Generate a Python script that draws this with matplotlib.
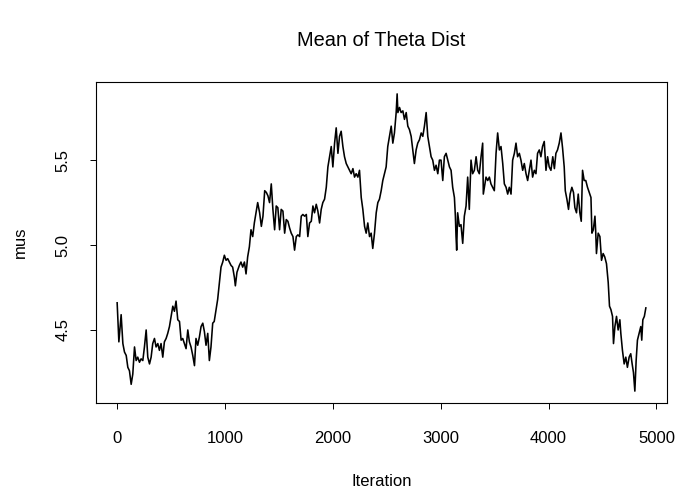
import matplotlib
matplotlib.use("Agg")
import matplotlib.pyplot as plt

# trace of the sampled mean, read off at roughly every 15 iterations
iteration = [
    0, 16, 37, 53, 68, 84, 99, 114, 130, 145, 161, 176, 191, 207, 222, 238,
    253, 269, 284, 300, 315, 330, 346, 361, 377, 392, 407, 423, 438, 454, 469,
    485, 500, 516, 531, 546, 562, 578, 593, 608, 624, 639, 655, 670, 685, 701,
    717, 731, 747, 763, 778, 794, 809, 824, 840, 855, 870, 886, 900, 917, 932,
    948, 963, 979, 994, 1010, 1025, 1040, 1056, 1071, 1087, 1096, 1111, 1133,
    1148, 1164, 1180, 1195, 1210, 1226, 1241, 1257, 1272, 1287, 1303, 1321,
    1337, 1352, 1368, 1383, 1398, 1413, 1429, 1444, 1460, 1475, 1490, 1506,
    1521, 1537, 1553, 1568, 1583, 1599, 1614, 1630, 1645, 1661, 1676, 1692,
    1707, 1722, 1738, 1754, 1768, 1784, 1800, 1815, 1830, 1846, 1861, 1877,
    1892, 1907, 1923, 1939, 1954, 1969, 1985, 2000, 2016, 2031, 2047, 2062,
    2077, 2093, 2108, 2124, 2139, 2155, 2170, 2186, 2201, 2216, 2232, 2247,
    2263, 2278, 2294, 2309, 2324, 2340, 2355, 2370, 2386, 2402, 2417, 2432,
    2448, 2463, 2478, 2494, 2509, 2525, 2541, 2556, 2571, 2587, 2596, 2603,
    2618, 2633, 2649, 2664, 2680, 2695, 2710, 2726, 2741, 2756, 2772, 2787,
    2803, 2819, 2834, 2849, 2865, 2880, 2895, 2911, 2926, 2942, 2957, 2973,
    2988, 3003, 3019, 3034, 3050, 3065, 3081, 3096, 3111, 3127, 3136, 3142,
    3148, 3157, 3173, 3188, 3204, 3219, 3235, 3250, 3265, 3281, 3296, 3312,
    3328, 3343, 3358, 3374, 3389, 3395, 3405, 3420, 3436, 3451, 3466, 3482,
    3497, 3513, 3528, 3544, 3559, 3575, 3590, 3606, 3621, 3636, 3652, 3667,
    3683, 3698, 3713, 3729, 3744, 3760, 3775, 3791, 3806, 3822, 3837, 3852,
    3868, 3883, 3898, 3914, 3929, 3944, 3960, 3976, 3991, 4006, 4022, 4039,
    4054, 4068, 4083, 4099, 4115, 4130, 4145, 4155, 4170, 4185, 4200, 4216,
    4231, 4244, 4259, 4275, 4290, 4303, 4315, 4330, 4345, 4361, 4377, 4393,
    4402, 4415, 4430, 4437, 4444, 4460, 4476, 4491, 4506, 4521, 4537, 4553,
    4565, 4578, 4593, 4602, 4615, 4630, 4645, 4661, 4670, 4685, 4701, 4716,
    4731, 4747, 4762, 4775, 4787, 4800, 4812, 4824, 4840, 4855, 4864, 4874,
    4888, 4902,
]
mus = [
    4.66, 4.43, 4.59, 4.42, 4.37, 4.35, 4.28, 4.26, 4.18, 4.24, 4.40, 4.32,
    4.34, 4.31, 4.33, 4.32, 4.40, 4.50, 4.34, 4.30, 4.34, 4.42, 4.45, 4.40,
    4.42, 4.38, 4.42, 4.34, 4.43, 4.45, 4.48, 4.52, 4.58, 4.64, 4.61, 4.67,
    4.56, 4.55, 4.44, 4.45, 4.42, 4.39, 4.50, 4.43, 4.40, 4.35, 4.29, 4.45,
    4.41, 4.46, 4.52, 4.54, 4.49, 4.41, 4.48, 4.32, 4.40, 4.54, 4.55, 4.62,
    4.68, 4.78, 4.87, 4.90, 4.94, 4.91, 4.92, 4.90, 4.88, 4.87, 4.81, 4.76,
    4.84, 4.88, 4.90, 4.87, 4.90, 4.83, 4.93, 4.99, 5.09, 5.05, 5.13, 5.19,
    5.25, 5.19, 5.11, 5.17, 5.32, 5.31, 5.29, 5.25, 5.36, 5.21, 5.09, 5.23,
    5.22, 5.09, 5.21, 5.20, 5.07, 5.15, 5.14, 5.10, 5.07, 5.05, 4.97, 5.05,
    5.06, 5.05, 5.17, 5.18, 5.17, 5.18, 5.05, 5.13, 5.14, 5.23, 5.19, 5.24,
    5.20, 5.13, 5.21, 5.25, 5.27, 5.34, 5.46, 5.52, 5.58, 5.46, 5.60, 5.69,
    5.54, 5.64, 5.67, 5.58, 5.52, 5.48, 5.46, 5.44, 5.42, 5.45, 5.40, 5.42,
    5.40, 5.44, 5.28, 5.21, 5.11, 5.07, 5.13, 5.05, 5.07, 4.98, 5.07, 5.19,
    5.25, 5.27, 5.32, 5.38, 5.42, 5.46, 5.58, 5.64, 5.70, 5.60, 5.66, 5.78,
    5.89, 5.78, 5.81, 5.78, 5.79, 5.74, 5.78, 5.70, 5.68, 5.64, 5.56, 5.48,
    5.56, 5.60, 5.62, 5.66, 5.64, 5.70, 5.78, 5.64, 5.58, 5.52, 5.50, 5.44,
    5.47, 5.42, 5.50, 5.50, 5.38, 5.52, 5.54, 5.50, 5.46, 5.44, 5.34, 5.28,
    5.17, 5.05, 4.97, 5.19, 5.11, 5.12, 5.01, 5.17, 5.23, 5.40, 5.21, 5.50,
    5.42, 5.44, 5.52, 5.44, 5.42, 5.52, 5.60, 5.30, 5.34, 5.40, 5.38, 5.40,
    5.36, 5.34, 5.32, 5.54, 5.66, 5.56, 5.58, 5.48, 5.36, 5.34, 5.30, 5.34,
    5.30, 5.50, 5.54, 5.60, 5.52, 5.54, 5.50, 5.44, 5.48, 5.42, 5.38, 5.44,
    5.50, 5.40, 5.44, 5.42, 5.54, 5.56, 5.52, 5.58, 5.61, 5.44, 5.52, 5.46,
    5.44, 5.52, 5.45, 5.54, 5.56, 5.60, 5.66, 5.57, 5.46, 5.32, 5.27, 5.21,
    5.30, 5.34, 5.31, 5.22, 5.19, 5.30, 5.19, 5.14, 5.44, 5.38, 5.38, 5.34,
    5.31, 5.28, 5.07, 5.09, 5.17, 5.08, 4.95, 5.07, 5.05, 4.91, 4.95, 4.93,
    4.89, 4.78, 4.64, 4.62, 4.58, 4.42, 4.52, 4.58, 4.50, 4.56, 4.48, 4.38,
    4.30, 4.34, 4.28, 4.34, 4.36, 4.30, 4.25, 4.14, 4.32, 4.44, 4.48, 4.52,
    4.44, 4.56, 4.58, 4.63,
]

x_ticks = [0, 1000, 2000, 3000, 4000, 5000]
y_ticks = [4.5, 5.0, 5.5]
y_tick_labels = ["4.5", "5.0", "5.5"]

plt.rcParams["font.family"] = ["Liberation Sans", "DejaVu Sans"]

fig = plt.figure(figsize=(6.8, 4.91), dpi=100)
ax = fig.add_axes([96 / 680, 1 - 403 / 491, 571 / 680, 321 / 491])

ax.plot(iteration, mus, color="black", linewidth=1.15)
ax.margins(x=0.04, y=0.04)

ax.set_xticks(x_ticks)
ax.set_xticklabels([str(t) for t in x_ticks])
ax.set_yticks(y_ticks)
ax.set_yticklabels(y_tick_labels, rotation=90, va="center")
ax.tick_params(direction="out", length=4.3, width=0.7, labelsize=12,
               color="black")
ax.tick_params(axis="x", pad=16)
ax.tick_params(axis="y", pad=14)
for spine in ax.spines.values():
    spine.set_linewidth(0.8)
    spine.set_color("black")

fig.text(381.5 / 680, 1 - 40 / 491, "Mean of Theta Dist", ha="center",
         va="center", fontsize=14.4)
fig.text(381.5 / 680, 1 - 481 / 491, "Iteration", ha="center", va="center",
         fontsize=12)
fig.text(20 / 680, 1 - 242.5 / 491, "mus", ha="center", va="center",
         rotation=90, fontsize=12)

fig.savefig("out.png", dpi=100)
